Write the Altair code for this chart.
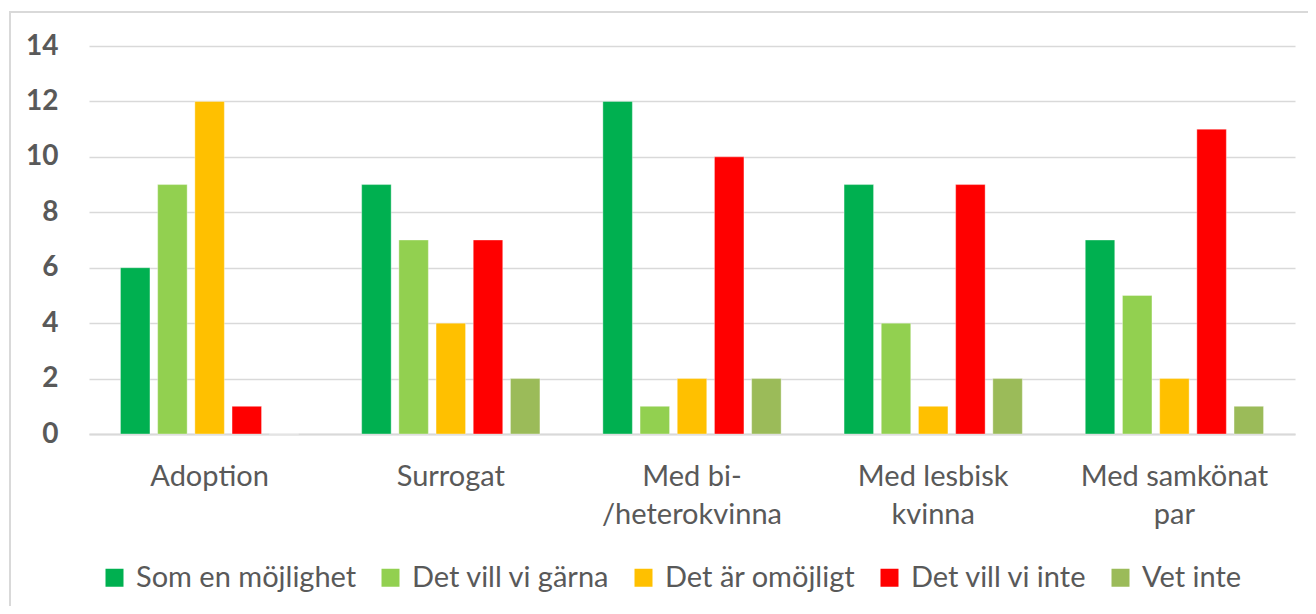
import altair as alt
import pandas as pd

categories = ["Adoption", "Surrogat", "Med bi-/heterokvinna", "Med lesbisk kvinna", "Med samkönat par"]
category_lines = {
    "Adoption": "Adoption",
    "Surrogat": "Surrogat",
    "Med bi-/heterokvinna": "Med bi-|/heterokvinna",
    "Med lesbisk kvinna": "Med lesbisk|kvinna",
    "Med samkönat par": "Med samkönat|par",
}
series = ["Som en möjlighet", "Det vill vi gärna", "Det är omöjligt", "Det vill vi inte", "Vet inte"]
colors = ["#00B050", "#92D050", "#FFC000", "#FF0000", "#9BBB59"]

som_en_mojlighet = [6, 9, 12, 9, 7]
det_vill_vi_garna = [9, 7, 1, 4, 5]
det_ar_omojligt = [12, 4, 2, 1, 2]
det_vill_vi_inte = [1, 7, 10, 9, 11]
vet_inte = [0, 2, 2, 2, 1]

values = [som_en_mojlighet, det_vill_vi_garna, det_ar_omojligt, det_vill_vi_inte, vet_inte]
rows = []
for s, vals in zip(series, values):
    for c, v in zip(categories, vals):
        rows.append({"kategori": category_lines[c], "serie": s, "antal": v})
df = pd.DataFrame(rows)

FONT = "Lato"
GREY = "#595959"

bars = alt.Chart(df).mark_bar(stroke="white", strokeWidth=0.6, strokeOpacity=0.6).encode(
    x=alt.X(
        "kategori:N",
        sort=[category_lines[c] for c in categories],
        scale=alt.Scale(paddingInner=0.229, paddingOuter=0.1145),
        axis=alt.Axis(
            title=None,
            labelAngle=0,
            labelExpr="split(datum.label, '|')",
            labelFont=FONT,
            labelFontSize=29,
            labelColor=GREY,
            labelPadding=28,
            labelLineHeight=38,
            labelLimit=0,
            ticks=False,
            domainColor="#D9D9D9",
            domainWidth=2,
            grid=False,
        ),
    ),
    xOffset=alt.XOffset(
        "serie:N",
        sort=series,
        scale=alt.Scale(paddingInner=0.207, paddingOuter=0.1035),
    ),
    y=alt.Y(
        "antal:Q",
        scale=alt.Scale(domain=[0, 14], nice=False),
        axis=alt.Axis(
            title=None,
            values=[0, 2, 4, 6, 8, 10, 12, 14],
            labelFont=FONT,
            labelFontSize=28,
            labelFontWeight="bold",
            labelColor=GREY,
            labelPadding=31,
            ticks=False,
            domain=False,
            gridColor="#D9D9D9",
            gridWidth=1.4,
        ),
    ),
    color=alt.Color(
        "serie:N",
        sort=series,
        scale=alt.Scale(domain=series, range=colors),
        legend=alt.Legend(
            title=None,
            orient="none",
            direction="horizontal",
            legendX=11,
            legendY=517,
            symbolType="square",
            symbolSize=324,
            symbolStrokeWidth=0,
            labelFont=FONT,
            labelFontSize=29,
            labelColor=GREY,
            labelOffset=7,
            labelLimit=0,
            columnPadding=19,
        ),
    ),
)

border = alt.Chart(alt.Data(values=[{"b": 1}])).mark_rect(
    fill=None, stroke="#D9D9D9", strokeWidth=2
).encode(
    x=alt.value(-79), x2=alt.value(1300), y=alt.value(-34), y2=alt.value(700)
)

chart = alt.layer(border, bars).properties(
    width=1206,
    height=388,
    autosize=alt.AutoSizeParams(type="none"),
    padding={"left": 81, "top": 38, "right": 13, "bottom": 172},
).configure_view(stroke=None)

chart.save("out.html", embed_options={"renderer": "svg", "actions": False})
